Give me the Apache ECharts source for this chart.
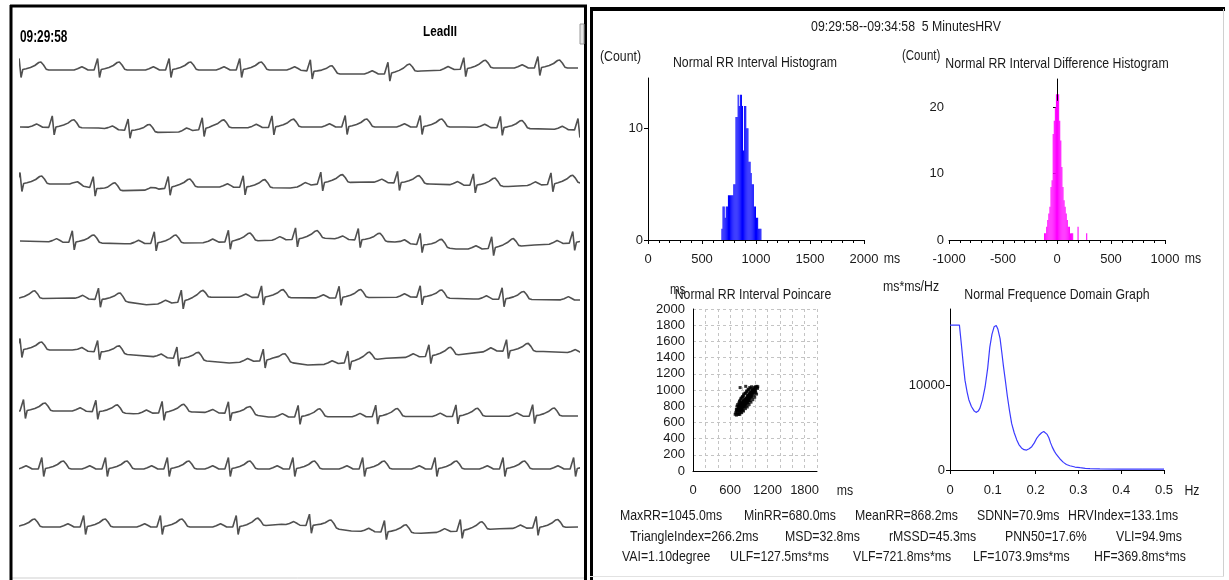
<!DOCTYPE html>
<html>
<head>
<meta charset="utf-8">
<script src="https://cdn.jsdelivr.net/npm/echarts@6/dist/echarts.min.js"></script>
<style>
  html, body { margin: 0; padding: 0; background: #fff; }
  #chart { width: 1229px; height: 580px; }
</style>
</head>
<body>
<div id="chart"></div>
<script>
// ---------------- ECG (Lead II), nine strips of 6.4 s ----------------
const stripSeconds = 6.4;

// R-peak times in seconds, one array per strip
const beats1 = [-0.01, 0.89, 1.71, 2.52, 3.33, 4.22, 5.09, 5.94];
const beats2 = [0.37, 1.24, 2.09, 2.89, 3.73, 4.59, 5.51, 6.40];
const beats3 = [0.00, 0.84, 1.70, 2.56, 3.45, 4.33, 5.20, 6.09];
const beats4 = [0.60, 1.54, 2.39, 3.16, 3.88, 4.59, 5.41, 6.34];
const beats5 = [-0.08, 0.90, 1.85, 2.77, 3.66, 4.59, 5.53, 6.47];
const beats6 = [0.00, 0.89, 1.80, 2.79, 3.76, 4.69, 5.58, 6.55];
const beats7 = [0.04, 0.87, 1.63, 2.39, 3.19, 4.08, 5.00, 5.88];
const beats8 = [0.25, 0.98, 1.69, 2.39, 3.13, 3.93, 4.76, 5.54, 6.35];
const beats9 = [-0.08, 0.73, 1.61, 2.48, 3.32, 4.18, 5.05, 5.92];

// baseline drift per strip, [time s, mV]
const drift1 = [[0, 0], [3.2, 0], [3.6, -0.4], [4.2, -0.4], [4.6, -0.1], [5.4, 0.2], [6.4, 0.2]];
const drift2 = [[0, 0], [0.9, -0.1], [1.5, -0.55], [1.85, -0.5], [2.2, -0.1], [3.3, 0], [5.1, 0], [5.8, -0.15], [6.4, -0.3]];
const drift3 = [[0, 0], [0.6, 0], [1.0, -0.7], [1.5, -0.6], [1.8, -0.3], [2.3, -0.3], [3.1, -0.4], [3.5, 0.1], [4.0, 0.2], [4.7, 0], [5.6, -0.25], [6.4, 0.1]];
const drift4 = [[0, 0], [1.2, -0.27], [2.1, -0.17], [2.8, 0.05], [3.5, 0.27], [4.3, -0.1], [5.0, -0.8], [5.3, -0.8], [5.9, -0.4], [6.4, -0.17]];
const drift5 = [[0, -0.1], [0.6, 0], [1.15, -0.3], [1.45, -0.67], [1.75, -0.5], [2.2, 0.1], [3.5, 0], [4.5, 0.1], [5.2, -0.1], [6.4, -0.2]];
const drift6 = [[0, 0.5], [0.6, 0.5], [1.3, 0], [2.0, -0.5], [2.4, -0.8], [2.9, -0.5], [3.3, -1.0], [3.6, -0.9], [4.2, -0.33], [5.0, 0], [5.4, 0.4], [6.0, 0.35], [6.4, 0.2]];
const drift7 = [[0, 0.1], [0.7, 0.1], [1.3, -0.17], [2.0, 0], [2.6, -0.2], [2.85, -0.5], [6.4, -0.4]];
const drift8 = [[0, 0], [6.4, 0]];
const drift9 = [[0, 0], [2.6, 0], [3.0, 0.27], [3.4, 0.1], [3.8, -0.4], [4.6, -0.63], [5.5, -0.17], [6.4, 0]];

// a single heartbeat: [time relative to R peak (s), mV]
const beatShape = [
  [-0.27, 0], [-0.23, 0.12], [-0.18, 0.33], [-0.14, 0.15], [-0.11, 0],
  [-0.04, 0], [-0.02, -0.1], [0, 1.15], [0.022, -0.75], [0.042, 0.05],
  [0.08, 0.12], [0.13, 0.25], [0.18, 0.45], [0.225, 0.75], [0.25, 0.8],
  [0.28, 0.5], [0.31, 0.08], [0.34, 0]
];

const stripBeats = [beats1, beats2, beats3, beats4, beats5, beats6, beats7, beats8, beats9];
const stripDrift = [drift1, drift2, drift3, drift4, drift5, drift6, drift7, drift8, drift9];

// ---------------- HRV panel data ----------------
const rangeTitle = '09:29:58--09:34:58  5 MinutesHRV';

// RR interval histogram (10 ms bins)
const rrBins = [680, 690, 700, 710, 720, 730, 740, 750, 760, 770, 780, 790, 800, 810, 820, 830, 840, 850, 860, 870,
                880, 890, 900, 910, 920, 930, 940, 950, 960, 970, 980, 990, 1000, 1010, 1020, 1030, 1040];
const rrCounts = [1, 3, 3, 2, 3, 3, 4, 4, 4, 4, 4, 5, 5, 11, 11, 13, 12, 13, 13, 12,
                  8, 12, 12, 10, 10, 7, 7, 6, 5, 5, 3, 3, 2, 2, 1, 1, 1];

// successive RR difference histogram (10 ms bins)
const diffBins = [-120, -110, -100, -90, -80, -70, -60, -50, -40, -30, -20, -10, 0, 10, 20, 30, 40, 50, 60, 70,
                  80, 90, 100, 110, 120, 130, 140, 190, 270];
const diffCounts = [1, 1, 2, 3, 4, 5, 8, 9, 16, 18, 20, 22, 21, 22, 18, 15, 11, 8, 6, 5,
                    4, 3, 2, 2, 1, 1, 1, 2, 1];

// Poincare plot: [RR(n), RR(n+1)] in ms
const poincarePoints = [
  [680, 700], [690, 720], [700, 690], [700, 740], [710, 760], [715, 720], [720, 750], [725, 700], [730, 780], [735, 760],
  [740, 730], [745, 790], [750, 770], [750, 810], [755, 740], [760, 790], [760, 830], [765, 780], [770, 760], [770, 810],
  [775, 840], [780, 790], [780, 820], [785, 770], [790, 850], [790, 800], [795, 830], [800, 780], [800, 820], [805, 860],
  [810, 800], [810, 840], [815, 870], [820, 820], [820, 850], [825, 800], [830, 880], [830, 840], [835, 860], [840, 820],
  [840, 890], [845, 850], [850, 870], [850, 830], [855, 900], [860, 860], [860, 880], [865, 840], [870, 900], [870, 870],
  [875, 920], [880, 880], [880, 850], [885, 910], [890, 890], [890, 930], [895, 870], [900, 910], [900, 940], [905, 890],
  [910, 930], [915, 960], [920, 900], [920, 940], [925, 970], [930, 930], [935, 950], [940, 980], [945, 940], [950, 970],
  [955, 1000], [960, 960], [965, 990], [970, 1010], [975, 970], [980, 1000], [985, 1030], [990, 990], [1000, 1020], [1005, 1040],
  [1010, 1000], [1020, 1030], [1030, 1045], [1040, 1020], [1045, 1040], [760, 1030], [850, 1045], [700, 760], [735, 800], [790, 760],
  [745, 750], [765, 810], [785, 800], [805, 830], [825, 860], [845, 880], [865, 890], [885, 930], [905, 950], [925, 950],
  [710, 800], [740, 840], [760, 870], [780, 900], [800, 920], [820, 950], [850, 960], [870, 990], [900, 1000], [930, 1020],
  [740, 700], [770, 730], [800, 750], [830, 790], [860, 810], [890, 840], [920, 870], [950, 910], [980, 940], [1010, 970],
  [720, 820], [750, 860], [770, 890], [795, 910], [815, 930], [840, 960], [865, 980], [890, 1010], [915, 1030], [945, 1040],
  [755, 700], [785, 720], [815, 740], [845, 770], [875, 790], [905, 820], [935, 850], [965, 880], [995, 910], [1025, 950],
  [760, 760], [790, 820], [815, 810], [840, 850], [865, 870], [890, 870], [915, 910], [940, 920], [960, 990], [1000, 980]
];

// power spectrum: [Hz, ms*ms/Hz]
const spectrum = [
  [0, 17100], [0.022, 17100], [0.027, 14600], [0.031, 12500], [0.035, 10600], [0.040, 9200], [0.044, 8300], [0.050, 7500],
  [0.056, 7000], [0.061, 6800], [0.066, 6950], [0.070, 7300], [0.076, 8300], [0.082, 9800], [0.088, 12000], [0.093, 14500],
  [0.098, 16000], [0.103, 16900], [0.108, 17050], [0.112, 16600], [0.117, 15500], [0.121, 13900], [0.125, 12200], [0.130, 10300],
  [0.134, 8700], [0.139, 7000], [0.144, 5500], [0.150, 4400], [0.156, 3550], [0.161, 3000], [0.167, 2600], [0.173, 2400],
  [0.179, 2350], [0.185, 2500], [0.191, 2750], [0.197, 3200], [0.202, 3700], [0.208, 4100], [0.214, 4400], [0.219, 4550],
  [0.223, 4500], [0.227, 4200], [0.231, 3800], [0.235, 3200], [0.239, 2700], [0.244, 2200], [0.249, 1800], [0.257, 1300],
  [0.265, 900], [0.272, 650], [0.280, 500], [0.292, 350], [0.304, 270], [0.316, 200], [0.327, 160], [0.35, 130],
  [0.4, 110], [0.45, 100], [0.5, 100]
];

// summary statistics, three rows
const statRow1 = ['MaxRR=1045.0ms', 'MinRR=680.0ms', 'MeanRR=868.2ms', 'SDNN=70.9ms', 'HRVIndex=133.1ms'];
const statRow2 = ['TriangleIndex=266.2ms', 'MSD=32.8ms', 'rMSSD=45.3ms', 'PNN50=17.6%', 'VLI=94.9ms'];
const statRow3 = ['VAI=1.10degree', 'ULF=127.5ms*ms', 'VLF=721.8ms*ms', 'LF=1073.9ms*ms', 'HF=369.8ms*ms'];

// ---------------- helpers ----------------
const FONT = "'Liberation Sans', Arial, sans-serif";
const TEXT = '#1a1a1a';
const SQUEEZE = 0.82;   // horizontal squeeze applied to panel captions

function driftAt(knots, t) {
  if (t <= knots[0][0]) return knots[0][1];
  for (let i = 1; i < knots.length; i++) {
    if (t <= knots[i][0]) {
      const [t0, v0] = knots[i - 1], [t1, v1] = knots[i];
      return v0 + (v1 - v0) * (t - t0) / (t1 - t0);
    }
  }
  return knots[knots.length - 1][1];
}
function shapeAt(dt) {
  const s = beatShape;
  if (dt <= s[0][0] || dt >= s[s.length - 1][0]) return 0;
  for (let i = 1; i < s.length; i++) {
    if (dt <= s[i][0]) {
      const [t0, v0] = s[i - 1], [t1, v1] = s[i];
      return v0 + (v1 - v0) * (dt - t0) / (t1 - t0);
    }
  }
  return 0;
}
// assemble one strip: every beat placed at its R time, on top of the drift line
function stripTrace(beats, drift) {
  const times = new Set([0, stripSeconds]);
  drift.forEach(k => times.add(+k[0].toFixed(4)));
  beats.forEach(r => beatShape.forEach(p => times.add(+(r + p[0]).toFixed(4))));
  return Array.from(times).sort((a, b) => a - b).map(t => {
    let v = driftAt(drift, t);
    beats.forEach(r => { v += shapeAt(t - r); });
    return [t, v];
  });
}
function histRender(color, width) {
  return function (params, api) {
    const x0 = api.value(0), c = api.value(1);
    const p0 = api.coord([x0, 0]);
    const p1 = api.coord([x0 + width, c]);
    return {
      type: 'rect',
      shape: { x: p0[0], y: p1[1], width: Math.max(p1[0] - p0[0], 1), height: p0[1] - p1[1] },
      style: { fill: color }
    };
  };
}
const plain = v => String(v);

// ---------------- layout ----------------
const stripCenters = [70, 127, 184, 241, 298, 355, 412, 469, 527];
const grids = [], xAxes = [], yAxes = [], series = [];

stripCenters.forEach((cy, i) => {
  grids.push({ left: 20, top: cy - 30, width: 558, height: 60 });
  xAxes.push({ gridIndex: i, type: 'value', min: 0, max: stripSeconds, show: false });
  yAxes.push({ gridIndex: i, type: 'value', min: -3, max: 3, show: false });
  series.push({
    type: 'line', xAxisIndex: i, yAxisIndex: i, symbol: 'none', silent: true,
    lineStyle: { color: '#505050', width: 1.6 },
    data: stripTrace(stripBeats[i], stripDrift[i])
  });
});

const axisLabelStyle = { color: TEXT, fontFamily: FONT, fontSize: 13, formatter: plain };
const blackLine = { show: true, lineStyle: { color: '#000', width: 1 } };

// 9: RR histogram
grids.push({ left: 648, top: 78, width: 216, height: 162 });
xAxes.push({
  gridIndex: 9, type: 'value', min: 0, max: 2000, interval: 500,
  axisLine: blackLine, axisTick: { show: true, length: 4, lineStyle: { color: '#000' } },
  minorTick: { show: true, splitNumber: 5, length: 3, lineStyle: { color: '#000' } },
  splitLine: { show: false }, axisLabel: { ...axisLabelStyle, margin: 13 }
});
yAxes.push({
  gridIndex: 9, type: 'value', min: 0, max: 14.5,
  axisLine: blackLine, axisTick: { show: true, length: 4, lineStyle: { color: '#000' }, customValues: [0, 10] },
  splitLine: { show: false }, axisLabel: { ...axisLabelStyle, margin: 5, customValues: [0, 10] }
});
series.push({
  type: 'custom', xAxisIndex: 9, yAxisIndex: 9, renderItem: histRender('#0000ff', 10),
  data: rrBins.map((b, i) => [b, rrCounts[i]]), silent: true
});

// 10: RR difference histogram
grids.push({ left: 949, top: 79, width: 216, height: 161 });
xAxes.push({
  gridIndex: 10, type: 'value', min: -1000, max: 1000, interval: 500,
  axisLine: blackLine, axisTick: { show: true, length: 4, lineStyle: { color: '#000' } },
  minorTick: { show: true, splitNumber: 5, length: 3, lineStyle: { color: '#000' } },
  splitLine: { show: false }, axisLabel: { ...axisLabelStyle, margin: 13 }
});
yAxes.push({
  gridIndex: 10, type: 'value', min: 0, max: 24.3,
  axisLine: blackLine, axisTick: { show: true, length: 4, lineStyle: { color: '#000' }, customValues: [0, 10, 20] },
  splitLine: { show: false }, axisLabel: { ...axisLabelStyle, margin: 5, customValues: [0, 10, 20] }
});
series.push({
  type: 'custom', xAxisIndex: 10, yAxisIndex: 10, renderItem: histRender('#ff00ff', 10),
  data: diffBins.map((b, i) => [b, diffCounts[i]]), silent: true
});

// 11: Poincare
const dashed = { show: true, lineStyle: { color: '#c4c4c4', type: [3, 3], width: 1 } };
grids.push({ left: 693, top: 309, width: 124, height: 162 });
xAxes.push({
  gridIndex: 11, type: 'value', min: 0, max: 2000, interval: 200,
  axisLine: blackLine, axisTick: { show: false }, splitLine: dashed,
  axisLabel: { ...axisLabelStyle, margin: 13, customValues: [0, 600, 1200, 1800] }
});
yAxes.push({
  gridIndex: 11, type: 'value', min: 0, max: 2000, interval: 200,
  axisLine: blackLine, axisTick: { show: false }, splitLine: dashed,
  axisLabel: { ...axisLabelStyle, margin: 8 }
});
series.push({
  type: 'scatter', xAxisIndex: 11, yAxisIndex: 11, symbol: 'rect', symbolSize: 3,
  itemStyle: { color: '#000' }, data: poincarePoints, silent: true
});

// 12: frequency domain
grids.push({ left: 950, top: 309, width: 214, height: 161 });
xAxes.push({
  gridIndex: 12, type: 'value', min: 0, max: 0.5, interval: 0.1,
  axisLine: blackLine, axisTick: { show: true, length: 4, lineStyle: { color: '#000' } },
  splitLine: { show: false }, axisLabel: { ...axisLabelStyle, margin: 14 }
});
yAxes.push({
  gridIndex: 12, type: 'value', min: 0, max: 19000,
  axisLine: blackLine, axisTick: { show: true, length: 4, lineStyle: { color: '#000' }, customValues: [0, 10000] },
  splitLine: { show: false }, axisLabel: { ...axisLabelStyle, margin: 5, customValues: [0, 10000] }
});
series.push({
  type: 'line', xAxisIndex: 12, yAxisIndex: 12, symbol: 'none', silent: true,
  lineStyle: { color: '#3b3bff', width: 1.2 }, data: spectrum
});

// ---------------- frames and texts ----------------
function txt(x, y, s, opt, squeeze) {
  return {
    type: 'text', x, y, silent: true, scaleX: squeeze == null ? SQUEEZE : squeeze,
    style: Object.assign({ text: s, fill: TEXT, font: '15px ' + FONT, textAlign: 'left', textVerticalAlign: 'middle' }, opt || {})
  };
}
function line(x1, y1, x2, y2, color, w) {
  return { type: 'line', silent: true, shape: { x1, y1, x2, y2 }, style: { stroke: color, lineWidth: w } };
}

const statX = [
  [620, 744, 855, 977, 1068],
  [630, 785, 889, 1005, 1116],
  [622, 730, 853, 973, 1094]
];
const statY = [516, 537, 557];
const statRows = [statRow1, statRow2, statRow3];

const graphics = [
  // left ECG panel frame
  line(10, 578, 585, 578, '#cfcfcf', 1),
  line(11, 5, 11, 580, '#000', 3),
  line(10, 6, 587, 6, '#000', 3),
  line(585.5, 5, 585.5, 580, '#000', 3),
  { type: 'rect', silent: true, shape: { x: 580, y: 24, width: 4, height: 20 }, style: { fill: '#e6e6e6', stroke: '#9a9a9a', lineWidth: 1 } },
  // right HRV panel frame
  line(590, 9, 1225, 9, '#000', 4),
  line(591.5, 7, 591.5, 580, '#000', 3),
  line(1223.5, 9, 1223.5, 577, '#d0d0d0', 1),
  line(590, 576.5, 1224, 576.5, '#e2e2e2', 1),
  // ECG labels
  txt(20, 38, '09:29:58', { font: 'bold 16px ' + FONT, fill: '#000' }, 0.74),
  txt(440, 32, 'LeadII', { font: 'bold 15px ' + FONT, fill: '#000', textAlign: 'center' }, 0.78),
  // HRV headings
  txt(906, 27, rangeTitle, { textAlign: 'center' }),
  txt(600, 57, '(Count)'),
  txt(755, 63, 'Normal RR Interval Histogram', { textAlign: 'center' }),
  txt(902, 56, '(Count)', { font: '14px ' + FONT }),
  txt(1057, 64, 'Normal RR Interval Difference Histogram', { textAlign: 'center' }),
  txt(892, 259, 'ms', { textAlign: 'center' }),
  txt(1193, 259, 'ms', { textAlign: 'center' }),
  txt(670, 290, 'ms', { font: '14px ' + FONT }),
  txt(753, 295, 'Normal RR Interval Poincare', { textAlign: 'center' }),
  txt(845, 491, 'ms', { textAlign: 'center' }),
  txt(883, 287, 'ms*ms/Hz'),
  txt(1057, 295, 'Normal Frequence Domain Graph', { textAlign: 'center' }),
  txt(1192, 491, 'Hz', { textAlign: 'center' })
];
statRows.forEach((row, r) => row.forEach((s, k) => graphics.push(txt(statX[r][k], statY[r], s))));

const chart = echarts.init(document.getElementById('chart'), null, { renderer: 'canvas' });
chart.setOption({
  animation: false,
  backgroundColor: '#fff',
  grid: grids,
  xAxis: xAxes,
  yAxis: yAxes,
  series: series,
  graphic: graphics
});
</script>
</body>
</html>
